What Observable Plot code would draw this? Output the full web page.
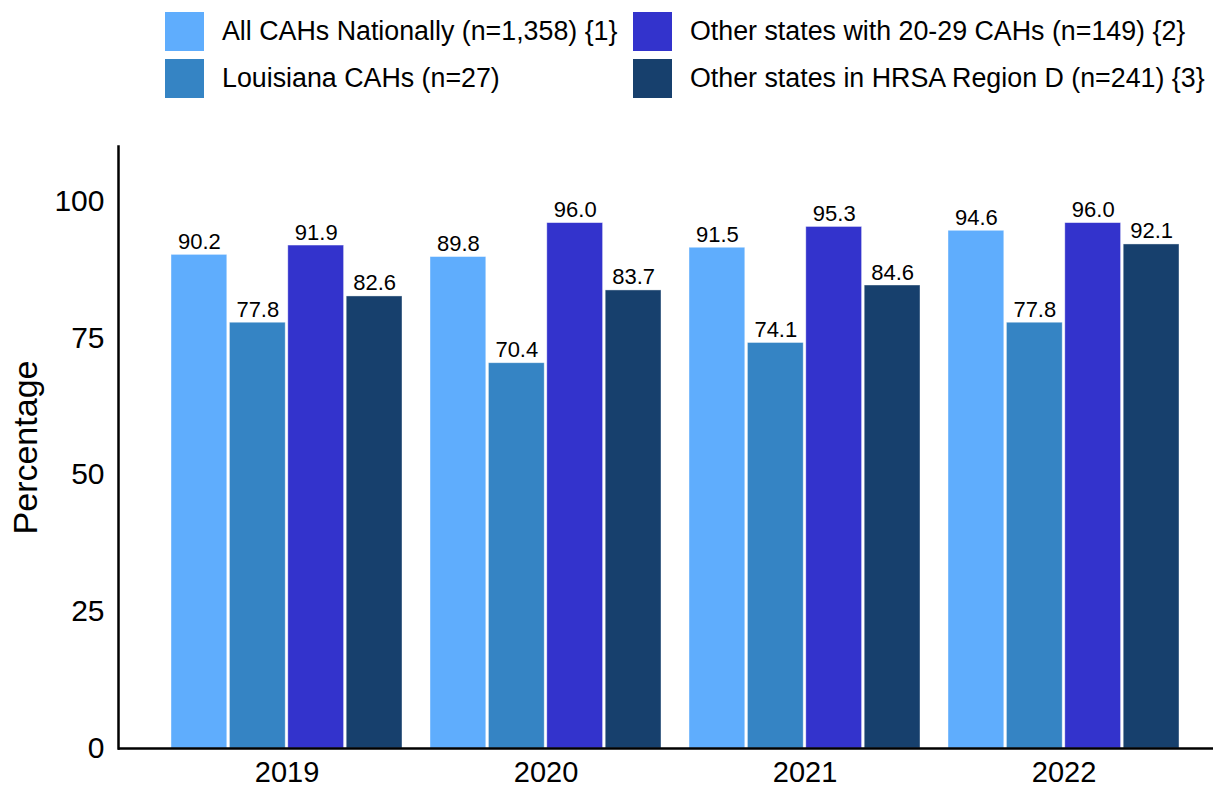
<!DOCTYPE html>
<html>
<head>
<meta charset="utf-8">
<script src="https://cdn.jsdelivr.net/npm/d3@7"></script>
<script src="https://cdn.jsdelivr.net/npm/@observablehq/plot@0.6"></script>
<style>
  html, body { margin: 0; padding: 0; background: #fff; }
  body { width: 1218px; height: 787px; overflow: hidden; font-family: "Liberation Sans", Arial, sans-serif; }
  #legend { position: relative; width: 1218px; height: 110px; }
  .item { position: absolute; display: flex; align-items: center; height: 39px; font-size: 26.8px; color: #000; white-space: nowrap; }
  .sw { width: 39px; height: 39px; margin-right: 18px; flex: none; }
</style>
</head>
<body>
<div id="legend"></div>
<div id="chart"></div>
<script>
const years = ["2019", "2020", "2021", "2022"];
const seriesNames = [
  "All CAHs Nationally (n=1,358) {1}",
  "Louisiana CAHs (n=27)",
  "Other states with 20-29 CAHs (n=149) {2}",
  "Other states in HRSA Region D (n=241) {3}"
];
const colors = ["#5fadfd", "#3584c4", "#3333cc", "#17406d"];
const allCAHs   = [90.2, 89.8, 91.5, 94.6];
const louisiana = [77.8, 70.4, 74.1, 77.8];
const states2029 = [91.9, 96.0, 95.3, 96.0];
const regionD   = [82.6, 83.7, 84.6, 92.1];
const yTicks = [0, 25, 50, 75, 100];

const seriesValues = [allCAHs, louisiana, states2029, regionD];
const data = [];
seriesValues.forEach((vals, i) => vals.forEach((v, j) => data.push({year: years[j], series: seriesNames[i], idx: i, value: v})));

// Legend (HTML, above the SVG)
const legend = document.getElementById("legend");
const legendPos = [[165, 12], [165, 59], [633, 12], [633, 59]];
seriesNames.forEach((name, i) => {
  const it = document.createElement("div");
  it.className = "item";
  it.style.left = legendPos[i][0] + "px";
  it.style.top = legendPos[i][1] + "px";
  const sw = document.createElement("div");
  sw.className = "sw";
  sw.style.background = colors[i];
  const tx = document.createElement("span");
  tx.textContent = name;
  it.appendChild(sw);
  it.appendChild(tx);
  legend.appendChild(it);
});

const barStep = 58.4;   // bar width + gap within a group
const bandW = 230.9;
const marks = [];
seriesNames.forEach((name, i) => {
  const sub = data.filter(d => d.idx === i);
  marks.push(Plot.barY(sub, {
    x: "year", y: "value", fill: colors[i],
    stroke: "#ffffff", strokeOpacity: 0.5, strokeWidth: 0.8,
    insetLeft: i * barStep, insetRight: (3 - i) * barStep
  }));
  marks.push(Plot.text(sub, {
    x: "year", y: "value", text: d => d.value.toFixed(1),
    dx: i * barStep + (bandW - 3 * barStep) / 2 - bandW / 2,
    dy: -6, lineAnchor: "bottom", fontSize: 22, fill: "#000"
  }));
});

const chart = Plot.plot({
  width: 1218,
  height: 677,
  marginLeft: 118,
  marginRight: 5,
  marginTop: 36,
  marginBottom: 39,
  style: {fontFamily: "Liberation Sans, Arial, sans-serif", background: "#fff", color: "#000"},
  x: {domain: years, range: [142, 1207], paddingInner: 0.109, paddingOuter: 0.109, label: null},
  y: {domain: [0, 110], label: null},
  marks: [
    ...marks,
    Plot.axisX({tickSize: 0, tickPadding: 13, fontSize: 29, label: null}),
    Plot.axisY({ticks: yTicks, tickSize: 0, tickPadding: 14, fontSize: 30, label: null}),
    Plot.frame({anchor: "left", strokeWidth: 2.5, stroke: "#000"}),
    Plot.ruleY([0], {strokeWidth: 2.5, stroke: "#000"}),
    Plot.text(["Percentage"], {frameAnchor: "left", dx: -92, rotate: -90, textAnchor: "middle", fontSize: 34, fill: "#000"})
  ]
});
document.getElementById("chart").appendChild(chart);
</script>
</body>
</html>
